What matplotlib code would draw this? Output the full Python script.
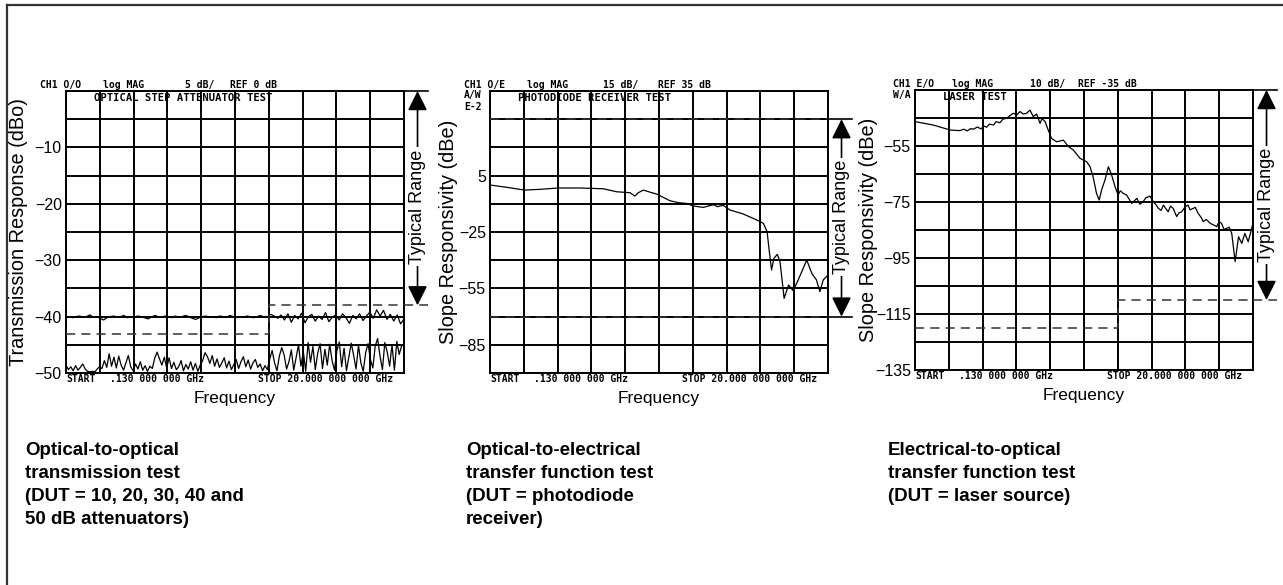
import numpy as np
import matplotlib
matplotlib.use("Agg")
import matplotlib.pyplot as plt
from matplotlib import font_manager as fm
from matplotlib.lines import Line2D
from matplotlib.patches import FancyArrowPatch

names = {f.name for f in fm.fontManager.ttflist}
SANS = 'Liberation Sans' if 'Liberation Sans' in names else 'DejaVu Sans'
HAS_NARROW = 'Liberation Sans Narrow' in names
NARROW = 'Liberation Sans Narrow' if HAS_NARROW else SANS
TICK_FS = 13 if HAS_NARROW else 11.5
MONO = 'DejaVu Sans Mono'

W, H = 1283, 585

# ---------------- data ----------------
F_START, F_STOP = 0.13, 20.0   # GHz sweep

# Panel 1: optical step attenuator test (dBo)
p1_upper = [-40.1, -40.0, -40.2, -40.0, -39.9, -40.1, -40.0, -39.7, -40.1, -40.0,
            -40.3, -40.6, -40.2, -40.0, -39.9, -40.1, -40.0, -39.8, -40.2, -40.0,
            -40.1, -39.9, -40.0, -40.2, -40.4, -40.1, -39.8, -40.0, -40.1, -39.9,
            -40.0, -40.2, -39.9, -40.1, -40.0, -39.8, -40.0, -40.3, -40.5, -40.2,
            -40.0, -39.9, -40.1, -40.0, -40.2, -39.9, -40.0, -40.1, -39.8, -40.0,
            -40.2, -40.0, -40.1, -39.9, -40.0, -40.2, -40.0, -39.8, -40.1, -40.0,
            -39.6, -39.9, -40.3, -39.7, -40.6, -39.5, -41.0, -39.8, -40.4, -39.4,
            -41.1, -40.0, -39.6, -40.8, -39.9, -40.5, -39.3, -40.9, -40.1, -39.7,
            -40.6, -39.5, -40.2, -41.2, -39.8, -40.4, -39.5, -40.7, -39.9, -39.2,
            -40.3, -38.8, -39.9, -38.9, -40.5, -39.6, -40.8, -39.7, -41.3, -40.4]
p1_lower = [-48.6, -49.4, -48.9, -49.6, -48.7, -49.5, -49.0, -48.4, -49.3, -49.7,
            -49.8, -49.7, -49.8, -49.3, -48.9,
            -49.2, -47.8, -49.0, -46.6, -48.8, -47.2, -49.1, -47.0, -48.6, -49.5,
            -48.2, -46.9, -48.9, -49.6,
            -48.4, -49.3, -48.0, -49.5, -48.7, -49.7, -48.8, -49.2, -47.4, -46.3,
            -47.5, -48.6, -47.2, -49.1,
            -47.3, -49.2, -48.1, -49.4, -48.9, -47.8, -49.6, -48.5, -49.3, -48.0,
            -49.5, -48.3, -49.7, -48.6,
            -47.8, -46.4, -47.1, -48.3, -46.9, -48.8, -47.5, -49.0, -48.2, -47.3,
            -49.1, -47.9, -49.4, -48.5,
            -47.6, -49.2, -48.0, -47.1, -48.9, -47.7, -49.3, -48.2, -47.6, -49.0,
            -48.4, -49.6, -48.7, -49.4,
            -47.5, -46.0, -48.2, -49.6, -47.0, -45.5, -46.8, -49.3, -48.0, -45.9,
            -49.5, -47.3, -45.0, -48.8,
            -46.2, -49.7, -44.6, -48.1, -45.3, -49.4, -46.5, -44.8, -49.2, -45.8,
            -48.6, -44.9, -47.8, -49.5,
            -46.0, -44.5, -48.9, -45.6, -49.6, -47.2, -44.7, -46.9, -49.3, -45.1,
            -48.2, -49.7, -46.4, -44.8,
            -47.6, -49.1, -45.2, -43.9, -47.0, -49.4, -44.6, -46.3, -48.8, -45.0,
            -49.5, -44.4, -46.7, -45.2, -44.9]
p1_limit_f = [0.13, 12.05, 12.05, 20.0]
p1_limit_db = [-43, -43, -38, -38]
p1_range = (0, -38)

# Panel 2: photodiode receiver test (dBe)
p2_f = [0.13, 1.10, 2.16, 3.07, 4.14, 5.42, 6.79, 7.58, 8.36, 8.65, 8.85, 9.15,
        9.53, 9.93, 10.32, 10.72, 11.20, 11.69, 12.09, 12.67, 13.26, 13.50, 13.84,
        14.24, 15.01, 15.81, 16.20, 16.42, 16.54, 16.68, 16.82, 17.02, 17.18,
        17.42, 17.68, 17.95, 18.25, 18.75, 19.05, 19.32, 19.52, 19.72, 20.0]
p2_db = [0.0, -1.2, -2.7, -2.3, -1.6, -1.6, -2.0, -3.6, -4.1, -5.9, -4.1, -2.7,
         -3.8, -4.8, -6.6, -8.4, -9.4, -9.8, -11.2, -11.9, -10.5, -11.5, -10.8,
         -13.3, -15.4, -18.6, -20.4, -24.8, -34.6, -45.2, -39.0, -36.9, -40.8,
         -60.3, -53.2, -56.2, -50.5, -39.9, -47.0, -50.5, -56.7, -50.5, -47.9]
p2_limits = [35, -70]
p2_range = (35, -70)

# Panel 3: laser test (dBe)
p3_f = [0.13, 1.20, 2.20, 2.77, 3.00, 3.20, 3.40, 3.57, 3.80, 4.00, 4.20, 4.34,
        4.50, 4.74, 4.90, 5.12, 5.30, 5.51, 5.70, 5.91, 6.11, 6.31, 6.50, 6.69,
        6.89, 7.08, 7.28, 7.48, 7.60, 7.78, 7.96, 8.16, 8.46, 8.85, 9.15, 9.43,
        9.83, 10.22, 10.42, 10.60, 10.80, 10.96, 11.10, 11.30, 11.50, 11.69,
        11.89, 12.07, 12.20, 12.37, 12.57, 12.87, 13.17, 13.35, 13.54, 13.70,
        13.94, 14.14, 14.30, 14.44, 14.60, 14.73, 15.01, 15.15, 15.31, 15.51,
        15.65, 15.81, 16.00, 16.18, 16.30, 16.48, 16.60, 16.78, 16.95, 17.08,
        17.25, 17.48, 17.65, 17.87, 18.00, 18.15, 18.30, 18.45, 18.60, 18.75,
        18.95, 19.15, 19.34, 19.52, 19.72, 20.0]
p3_db = [-46.3, -47.5, -49.3, -49.5, -49.0, -49.6, -48.8, -49.0, -48.2, -48.9,
         -47.9, -48.3, -47.2, -47.5, -46.3, -46.7, -45.4, -45.1, -44.2, -43.3,
         -43.9, -42.7, -43.6, -43.3, -42.2, -44.5, -43.6, -46.9, -45.2, -46.3,
         -49.3, -52.3, -53.5, -52.9, -55.2, -56.4, -59.4, -60.6, -62.4, -66.0,
         -71.9, -74.3, -70.7, -67.1, -62.4, -65.4, -69.5, -72.5, -71.0, -71.9,
         -72.5, -75.5, -73.7, -75.8, -74.9, -73.5, -72.9, -74.9, -76.0, -77.3,
         -78.0, -76.1, -78.5, -76.5, -77.3, -80.2, -78.9, -78.5, -76.8, -76.1,
         -77.8, -77.3, -76.9, -79.1, -80.5, -82.0, -81.2, -82.6, -83.1, -83.8,
         -82.0, -82.6, -84.8, -84.4, -84.0, -86.2, -96.3, -87.4, -89.8, -86.2,
         -89.2, -82.6]
p3_limit_f = [0.13, 12.05, 12.05, 20.0]
p3_limit_db = [-120, -120, -110, -110]
p3_range = (-35, -110)

headers = [
    ["CH1 O/O", "log MAG", "5 dB/", "REF 0 dB"],
    ["CH1 O/E", "log MAG", "15 dB/", "REF 35 dB"],
    ["CH1 E/O", "log MAG", "10 dB/", "REF -35 dB"],
]
inner_titles = ["OPTICAL STEP ATTENUATOR TEST", "PHOTODIODE RECEIVER TEST", "LASER TEST"]
ylabels = ["Transmission Response (dBo)", "Slope Responsivity (dBe)", "Slope Responsivity (dBe)"]
captions = [
    "Optical-to-optical\ntransmission test\n(DUT = 10, 20, 30, 40 and\n50 dB attenuators)",
    "Optical-to-electrical\ntransfer function test\n(DUT = photodiode\nreceiver)",
    "Electrical-to-optical\ntransfer function test\n(DUT = laser source)",
]
ylims = [(-50, 0), (-100, 50), (-135, -35)]
ystep = [5, 15, 10]
ylabeled = [[-10, -20, -30, -40, -50], [5, -25, -55, -85], [-55, -75, -95, -115, -135]]

# ---------------- figure ----------------
fig = plt.figure(figsize=(W / 100, H / 100), dpi=100)
fig.patch.set_facecolor('white')

def fx(px):
    return px / W

def fy(py):
    return 1 - py / H

rects = [
    [fx(66), fy(373), 338 / W, 282 / H],
    [fx(490), fy(373), 338 / W, 282 / H],
    [fx(915), fy(370), 338 / W, 280 / H],
]
axes = [fig.add_axes(r) for r in rects]

hdr_x = [[-0.077, 0.109, 0.352, 0.485],
         [-0.077, 0.109, 0.334, 0.497],
         [-0.065, 0.109, 0.340, 0.482]]
ylabel_x = [-0.142, -0.124, -0.139]
range_text_y = [-20.5, -17, -76]
caption_x = [25, 466, 888]
HDR_FS = 7.0
SMALL_FS = 7.0

GRID_LW = 1.4
for i, ax in enumerate(axes):
    lo, hi = ylims[i]
    ax.set_xlim(F_START, F_STOP)
    ax.set_ylim(lo, hi)
    ax.set_xticks(np.linspace(F_START, F_STOP, 11))
    ax.set_yticks(ylabeled[i])
    ax.set_yticks(np.arange(lo, hi + 0.1, ystep[i]), minor=True)
    ax.grid(which='both', color='black', lw=GRID_LW, zorder=1)
    ax.tick_params(which='both', length=0, labelbottom=False, pad=3)
    ax.tick_params(axis='y', labelsize=TICK_FS, labelfontfamily=NARROW)
    for s in ax.spines.values():
        s.set_linewidth(GRID_LW)
    ax.set_axisbelow(True)

    # header tokens
    for tok, x in zip(headers[i], hdr_x[i]):
        ax.text(x, 1.021, tok, transform=ax.transAxes, fontsize=HDR_FS, family=MONO,
                fontweight='bold', va='center', ha='left')
    ax.text(0.082, 0.975, inner_titles[i], transform=ax.transAxes, fontsize=7.6,
            family=MONO, fontweight='bold', va='center', ha='left')
    # bottom sweep tokens
    ax.text(0.0, -0.022, "START", transform=ax.transAxes, fontsize=SMALL_FS, family=MONO,
            fontweight='bold', va='center', ha='left')
    ax.text(0.13, -0.022, ".130 000 000 GHz", transform=ax.transAxes, fontsize=SMALL_FS,
            family=MONO, fontweight='bold', va='center', ha='left')
    ax.text(0.568, -0.022, "STOP 20.000 000 000 GHz", transform=ax.transAxes,
            fontsize=SMALL_FS, family=MONO, fontweight='bold', va='center', ha='left')

    ax.text(0.5, -0.09, "Frequency", transform=ax.transAxes, fontsize=12.5,
            family=SANS, ha='center', va='center')
    ax.text(ylabel_x[i], 0.5, ylabels[i], transform=ax.transAxes, fontsize=14.3,
            family=SANS, rotation=90, ha='center', va='center')

    fig.text(fx(caption_x[i]), fy(442), captions[i], fontsize=13.5, family=SANS,
             fontweight='bold', ha='left', va='top', linespacing=1.47)

ax1, ax2, ax3 = axes
TR = dict(color='black', lw=0.9, zorder=3)
DASH = dict(color='#333333', lw=1.1, ls=(0, (6, 4)), zorder=3)

# panel 1 traces
ax1.plot(np.linspace(F_START, F_STOP, len(p1_upper)), p1_upper, **TR)
ax1.plot(np.linspace(F_START, F_STOP, len(p1_lower)), p1_lower, **TR)
ax1.plot(p1_limit_f, p1_limit_db, **DASH)
# panel 2
ax2.plot(p2_f, p2_db, **TR)
for v in p2_limits:
    ax2.plot([F_START, F_STOP], [v, v], **DASH)
# panel 3
ax3.plot(p3_f, p3_db, **TR)
ax3.plot(p3_limit_f, p3_limit_db, **DASH)

# Typical range arrows
AX_X = 1.04
bottom_dashed = [True, False, True]
for i, (ax, rng) in enumerate(zip(axes, [p1_range, p2_range, p3_range])):
    tr = ax.get_yaxis_transform()
    top, bot = rng
    ax.plot([1.0, 1.072], [top, top], transform=tr, color='black', lw=1.2,
            clip_on=False, zorder=3)
    if bottom_dashed[i]:
        ax.plot([1.0, 1.072], [bot, bot], transform=tr, clip_on=False,
                **DASH)
    else:
        ax.plot([1.0, 1.072], [bot, bot], transform=tr, color='black', lw=1.2,
                clip_on=False, zorder=3)
    arr = FancyArrowPatch((AX_X, top), (AX_X, bot), transform=tr,
                          arrowstyle='<|-|>,head_length=0.7,head_width=0.35',
                          mutation_scale=17, color='black', lw=1.2,
                          shrinkA=0, shrinkB=0, clip_on=False, zorder=3)
    ax.add_artist(arr)
    ax.text(AX_X, range_text_y[i], "Typical Range", transform=tr, rotation=90,
            fontsize=13, family=SANS, ha='center', va='center', zorder=4,
            bbox=dict(facecolor='white', edgecolor='none', pad=1.5))

# extras
ax2.text(-0.077, 0.986, "A/W", transform=ax2.transAxes, fontsize=SMALL_FS, family=MONO,
         fontweight='bold', va='center', ha='left')
ax2.text(-0.077, 0.943, "E-2", transform=ax2.transAxes, fontsize=SMALL_FS, family=MONO,
         fontweight='bold', va='center', ha='left')
ax3.text(-0.065, 0.982, "W/A", transform=ax3.transAxes, fontsize=SMALL_FS, family=MONO,
         fontweight='bold', va='center', ha='left')

# outer frame (top and left)
fig.add_artist(Line2D([fx(7), 1.0], [fy(5), fy(5)], color='#333333', lw=1.6))
fig.add_artist(Line2D([fx(7), fx(7)], [fy(5), 0.0], color='#333333', lw=1.6))

fig.savefig("out.png", dpi=100, facecolor='white')
